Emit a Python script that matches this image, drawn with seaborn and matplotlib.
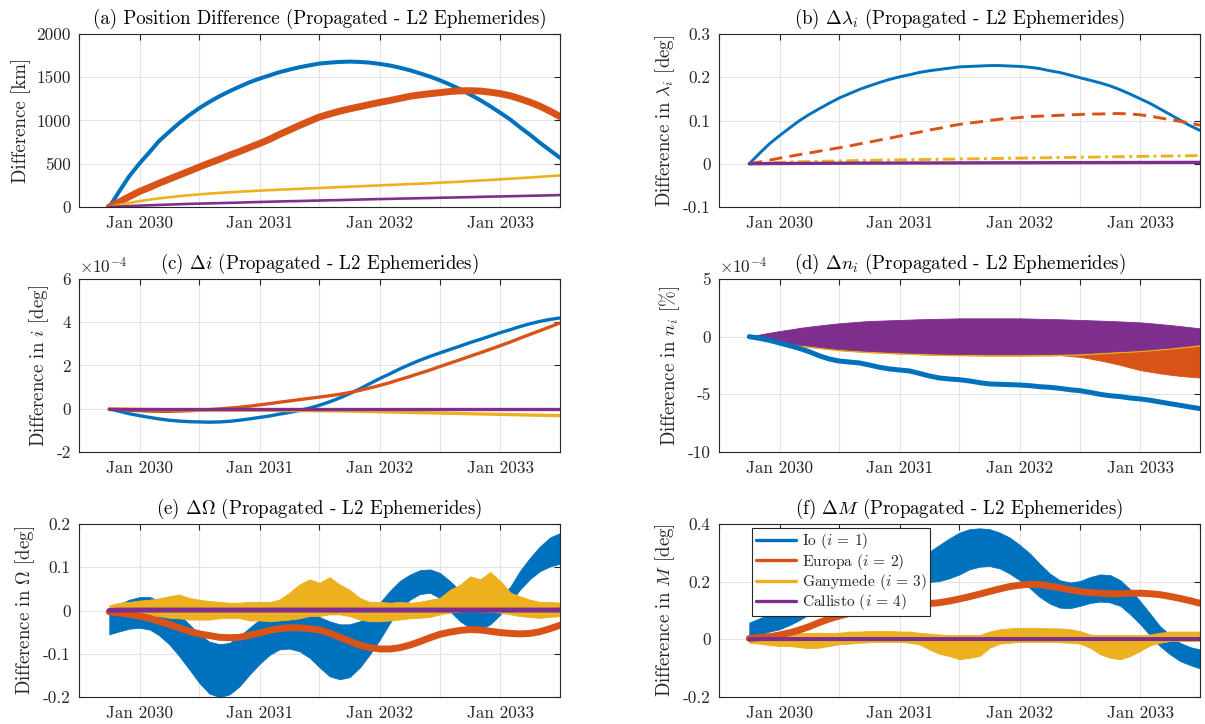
import numpy as np
import pandas as pd
import matplotlib
matplotlib.use("Agg")
import matplotlib.pyplot as plt
import seaborn as sns
from matplotlib.lines import Line2D

# ---------------- data ----------------
dates = pd.date_range("2029-10-01", "2033-07-01", freq="MS")  # monthly samples

moons = [r"Io ($i\,=\,1$)", r"Europa ($i\,=\,2$)", r"Ganymede ($i\,=\,3$)", r"Callisto ($i\,=\,4$)"]
colors = ["#0072BD", "#D95319", "#EDB120", "#7E2F8E"]

tick_dates = ["2029-07-01", "2030-01-01", "2030-07-01", "2031-01-01", "2031-07-01",
              "2032-01-01", "2032-07-01", "2033-01-01", "2033-07-01"]
tick_labels = ["", "Jan 2030", "", "Jan 2031", "", "Jan 2032", "", "Jan 2033", ""]

# (a) position difference [km]
a_io = [0, 185, 358, 504, 638, 762, 869, 969, 1062, 1142, 1215, 1281, 1338, 1392, 1442, 1485,
        1523, 1558, 1588, 1615, 1638, 1658, 1669, 1677, 1681, 1677, 1669, 1654, 1635, 1611, 1581,
        1546, 1508, 1465, 1415, 1361, 1300, 1235, 1165, 1088, 1008, 923, 835, 742, 654, 569]
a_eur = [0, 60, 120, 180, 228, 275, 322, 368, 415, 462, 508, 552, 598, 642, 688, 735, 785, 838,
         890, 942, 992, 1040, 1075, 1108, 1135, 1160, 1185, 1210, 1232, 1255, 1280, 1296, 1310,
         1322, 1335, 1343, 1345, 1340, 1328, 1310, 1285, 1252, 1212, 1165, 1108, 1045]
a_gan = [0, 25, 48, 68, 85, 100, 113, 125, 136, 146, 155, 163, 170, 177, 183, 189, 195, 200, 205,
         210, 215, 220, 225, 230, 235, 240, 245, 250, 255, 260, 265, 270, 275, 281, 287, 293, 300,
         306, 313, 320, 327, 334, 341, 349, 357, 365]
a_cal = [0, 6, 11, 16, 20, 24, 28, 32, 36, 39, 42, 45, 48, 51, 55, 58, 61, 64, 67, 69, 72, 75, 78,
         80, 83, 86, 89, 92, 94, 97, 99, 102, 104, 107, 109, 112, 114, 117, 120, 122, 125, 127,
         130, 132, 135, 138]

# (b) mean longitude difference [deg]
b_io = [0.000, 0.024, 0.046, 0.065, 0.083, 0.099, 0.114, 0.127, 0.140, 0.152, 0.162, 0.172, 0.180,
        0.188, 0.195, 0.201, 0.206, 0.211, 0.215, 0.218, 0.221, 0.224, 0.225, 0.226, 0.227, 0.227,
        0.226, 0.225, 0.223, 0.220, 0.215, 0.211, 0.205, 0.199, 0.193, 0.187, 0.180, 0.171, 0.161,
        0.150, 0.139, 0.127, 0.114, 0.101, 0.088, 0.077]
b_eur = [0.000, 0.004, 0.008, 0.013, 0.017, 0.021, 0.025, 0.029, 0.033, 0.037, 0.041, 0.046,
         0.050, 0.055, 0.059, 0.064, 0.069, 0.073, 0.078, 0.082, 0.087, 0.091, 0.094, 0.097, 0.100,
         0.103, 0.105, 0.107, 0.109, 0.110, 0.111, 0.112, 0.113, 0.114, 0.115, 0.115, 0.116, 0.116,
         0.115, 0.113, 0.110, 0.106, 0.102, 0.098, 0.094, 0.089]
b_gan = [0.000, 0.001, 0.002, 0.003, 0.004, 0.0045, 0.005, 0.0055, 0.006, 0.0065, 0.007, 0.0075,
         0.008, 0.0083, 0.0086, 0.009, 0.0093, 0.0096, 0.010, 0.0103, 0.0106, 0.011, 0.0113,
         0.0116, 0.012, 0.0123, 0.0126, 0.013, 0.0133, 0.0136, 0.014, 0.0143, 0.0146, 0.015,
         0.0153, 0.0156, 0.016, 0.0163, 0.0166, 0.017, 0.0173, 0.0176, 0.018, 0.0183, 0.0186, 0.019]
b_cal = [0.000, 0.0002, 0.0004, 0.0006, 0.0007, 0.0008, 0.0009, 0.0010, 0.0011, 0.0012, 0.0013,
         0.0014, 0.0015, 0.0015, 0.0016, 0.0017, 0.0017, 0.0018, 0.0018, 0.0019, 0.0019, 0.0020,
         0.0020, 0.0021, 0.0021, 0.0022, 0.0022, 0.0023, 0.0023, 0.0024, 0.0024, 0.0025, 0.0025,
         0.0026, 0.0026, 0.0027, 0.0027, 0.0028, 0.0028, 0.0029, 0.0029, 0.0030, 0.0030, 0.0031,
         0.0031, 0.0032]

# (c) inclination difference [1e-4 deg]
c_io = [0.00, -0.12, -0.23, -0.32, -0.40, -0.47, -0.53, -0.57, -0.60, -0.61, -0.62, -0.61, -0.58,
        -0.53, -0.47, -0.40, -0.33, -0.25, -0.17, -0.08, 0.03, 0.16, 0.32, 0.50, 0.70, 0.92, 1.16,
        1.40, 1.62, 1.84, 2.05, 2.24, 2.42, 2.58, 2.74, 2.90, 3.06, 3.21, 3.36, 3.52, 3.66, 3.80,
        3.93, 4.04, 4.13, 4.20]
c_eur = [0.00, -0.04, -0.07, -0.09, -0.11, -0.12, -0.12, -0.11, -0.09, -0.07, -0.04, -0.01, 0.03,
         0.07, 0.12, 0.18, 0.24, 0.30, 0.36, 0.42, 0.48, 0.54, 0.60, 0.67, 0.75, 0.85, 0.96, 1.08,
         1.21, 1.35, 1.49, 1.64, 1.79, 1.95, 2.11, 2.27, 2.43, 2.59, 2.75, 2.92, 3.09, 3.26, 3.44,
         3.61, 3.79, 3.97]
c_gan = [0.00, -0.01, -0.02, -0.03, -0.035, -0.04, -0.045, -0.05, -0.055, -0.06, -0.062, -0.065,
         -0.068, -0.07, -0.072, -0.075, -0.078, -0.08, -0.083, -0.086, -0.09, -0.094, -0.098, -0.10,
         -0.11, -0.12, -0.13, -0.14, -0.15, -0.16, -0.17, -0.18, -0.19, -0.20, -0.21, -0.22, -0.23,
         -0.24, -0.25, -0.26, -0.27, -0.28, -0.29, -0.30, -0.31, -0.32]
c_cal = [0.00, 0.00, 0.00, 0.00, 0.00, 0.00, 0.00, 0.00, 0.00, 0.00, 0.00, 0.00, 0.00, 0.00, 0.00,
         0.00, 0.00, 0.00, 0.00, 0.00, 0.00, 0.00, 0.00, 0.00, 0.00, 0.00, 0.00, 0.00, 0.00, 0.00,
         0.00, 0.00, 0.00, 0.00, 0.00, 0.00, 0.00, 0.00, 0.00, 0.00, 0.00, 0.00, 0.00, 0.00, 0.00,
         0.00]

# (d) mean motion difference [1e-4 %], envelopes of the oscillating bands
d_io = [0.00, -0.14, -0.32, -0.55, -0.78, -1.01, -1.30, -1.65, -1.94, -2.11, -2.20, -2.28, -2.46,
        -2.66, -2.80, -2.89, -2.98, -3.18, -3.41, -3.58, -3.67, -3.73, -3.84, -3.99, -4.10, -4.13,
        -4.16, -4.19, -4.25, -4.34, -4.39, -4.48, -4.60, -4.68, -4.83, -5.00, -5.12, -5.20, -5.32,
        -5.40, -5.52, -5.66, -5.81, -5.95, -6.10, -6.24]
d_eur_hi = [0.05, 0.10, 0.20, 0.30, 0.40, 0.48, 0.56, 0.63, 0.70, 0.76, 0.81, 0.86, 0.90, 0.93,
            0.96, 0.98, 1.00, 1.02, 1.04, 1.05, 1.06, 1.07, 1.07, 1.07, 1.07, 1.07, 1.06, 1.05,
            1.04, 1.02, 1.00, 0.95, 0.85, 0.75, 0.65, 0.55, 0.45, 0.35, 0.25, 0.15, 0.05, -0.05,
            -0.15, -0.25, -0.35, -0.45]
d_eur_lo = [-0.03, -0.22, -0.40, -0.55, -0.68, -0.78, -0.88, -0.98, -1.08, -1.17, -1.23, -1.29,
            -1.34, -1.38, -1.42, -1.46, -1.49, -1.52, -1.55, -1.57, -1.59, -1.60, -1.61, -1.62,
            -1.63, -1.63, -1.63, -1.63, -1.62, -1.62, -1.63, -1.60, -1.68, -1.75, -1.90, -2.07,
            -2.25, -2.45, -2.68, -2.90, -3.05, -3.18, -3.30, -3.40, -3.48, -3.55]
d_gan_hi = [0.10, 0.15, 0.28, 0.40, 0.50, 0.60, 0.70, 0.78, 0.86, 0.93, 0.98, 1.03, 1.08, 1.10,
            1.12, 1.14, 1.16, 1.18, 1.20, 1.22, 1.23, 1.24, 1.24, 1.24, 1.24, 1.24, 1.24, 1.24,
            1.23, 1.22, 1.20, 1.18, 1.16, 1.14, 1.12, 1.10, 1.08, 1.05, 1.02, 0.98, 0.93, 0.87,
            0.81, 0.74, 0.66, 0.58]
d_gan_lo = [-0.05, -0.25, -0.42, -0.58, -0.70, -0.80, -0.90, -1.00, -1.10, -1.19, -1.25, -1.31,
            -1.36, -1.40, -1.44, -1.48, -1.51, -1.54, -1.57, -1.59, -1.61, -1.62, -1.63, -1.64,
            -1.65, -1.65, -1.65, -1.65, -1.64, -1.63, -1.62, -1.60, -1.58, -1.56, -1.51, -1.46,
            -1.41, -1.36, -1.31, -1.26, -1.19, -1.12, -1.05, -0.96, -0.87, -0.78]
d_cal_hi = [0.00, 0.18, 0.34, 0.49, 0.62, 0.75, 0.87, 0.97, 1.07, 1.16, 1.23, 1.30, 1.36, 1.39,
            1.42, 1.45, 1.48, 1.51, 1.53, 1.55, 1.57, 1.59, 1.59, 1.59, 1.59, 1.59, 1.59, 1.59,
            1.57, 1.55, 1.53, 1.51, 1.48, 1.45, 1.42, 1.39, 1.36, 1.32, 1.28, 1.24, 1.17, 1.09,
            1.01, 0.92, 0.82, 0.72]
d_cal_lo = [0.00, -0.17, -0.33, -0.49, -0.59, -0.69, -0.78, -0.88, -0.98, -1.07, -1.13, -1.19,
            -1.24, -1.28, -1.32, -1.36, -1.39, -1.42, -1.45, -1.47, -1.49, -1.50, -1.51, -1.52,
            -1.53, -1.53, -1.53, -1.53, -1.52, -1.51, -1.50, -1.48, -1.47, -1.45, -1.40, -1.35,
            -1.30, -1.25, -1.21, -1.16, -1.09, -1.02, -0.95, -0.85, -0.76, -0.66]

# (e) RAAN difference [deg]
e_io_hi = [0.002, 0.015, 0.025, 0.031, 0.031, 0.023, 0.010, -0.009, -0.032, -0.055, -0.072,
           -0.078, -0.075, -0.059, -0.040, -0.021, -0.009, -0.003, -0.002, -0.003, -0.008, -0.015,
           -0.025, -0.032, -0.032, -0.025, -0.009, 0.018, 0.046, 0.068, 0.083, 0.093, 0.095,
           0.087, 0.068, 0.045, 0.025, 0.015, 0.015, 0.029, 0.056, 0.091, 0.122, 0.148, 0.169,
           0.179]
e_io_lo = [-0.055, -0.048, -0.042, -0.040, -0.044, -0.057, -0.078, -0.105, -0.136, -0.167, -0.192,
           -0.200, -0.194, -0.175, -0.148, -0.123, -0.102, -0.090, -0.088, -0.094, -0.109, -0.131,
           -0.152, -0.159, -0.154, -0.132, -0.102, -0.067, -0.028, 0.002, 0.025, 0.038, 0.041,
           0.029, -0.002, -0.025, -0.040, -0.044, -0.032, -0.009, 0.020, 0.048, 0.073, 0.091,
           0.102, 0.108]
e_eur = [-0.003, -0.006, -0.009, -0.013, -0.018, -0.025, -0.032, -0.040, -0.048, -0.054, -0.058,
         -0.062, -0.063, -0.062, -0.057, -0.052, -0.046, -0.042, -0.040, -0.040, -0.042, -0.045,
         -0.052, -0.062, -0.071, -0.080, -0.086, -0.089, -0.089, -0.086, -0.080, -0.072, -0.063,
         -0.055, -0.050, -0.046, -0.044, -0.045, -0.048, -0.051, -0.053, -0.054, -0.053, -0.049,
         -0.042, -0.034]
e_gan_hi = [0.012, 0.018, 0.020, 0.023, 0.025, 0.028, 0.033, 0.037, 0.029, 0.025, 0.022, 0.020,
            0.018, 0.018, 0.020, 0.020, 0.020, 0.025, 0.041, 0.060, 0.072, 0.064, 0.077, 0.060,
            0.048, 0.029, 0.020, 0.020, 0.018, 0.020, 0.018, 0.020, 0.025, 0.029, 0.048, 0.060,
            0.079, 0.072, 0.089, 0.068, 0.041, 0.033, 0.025, 0.020, 0.020, 0.018]
e_gan_lo = [-0.005, -0.008, -0.009, -0.012, -0.013, -0.013, -0.017, -0.018, -0.021, -0.021,
            -0.021, -0.018, -0.017, -0.018, -0.023, -0.023, -0.025, -0.023, -0.021, -0.018,
            -0.013, -0.013, -0.009, -0.009, -0.013, -0.021, -0.025, -0.025, -0.023, -0.021,
            -0.018, -0.017, -0.015, -0.009, -0.005, -0.002, -0.002, -0.002, -0.003, -0.005,
            -0.009, -0.013, -0.015, -0.017, -0.015, -0.013]
e_cal = [0.000, 0.001, 0.001, 0.001, 0.001, 0.001, 0.001, 0.001, 0.001, 0.001, 0.001, 0.001,
         0.001, 0.001, 0.001, 0.001, 0.001, 0.001, 0.001, 0.001, 0.001, 0.001, 0.001, 0.001,
         0.001, 0.001, 0.001, 0.001, 0.001, 0.001, 0.001, 0.001, 0.001, 0.001, 0.001, 0.001,
         0.001, 0.001, 0.001, 0.001, 0.001, 0.001, 0.001, 0.001, 0.001, 0.001]

# (f) mean anomaly difference [deg]
f_io_hi = [0.058, 0.073, 0.087, 0.098, 0.110, 0.124, 0.139, 0.154, 0.170, 0.185, 0.200, 0.214,
           0.228, 0.239, 0.251, 0.262, 0.276, 0.290, 0.304, 0.327, 0.350, 0.370, 0.382, 0.385,
           0.382, 0.370, 0.353, 0.327, 0.297, 0.262, 0.228, 0.205, 0.197, 0.202, 0.216, 0.225,
           0.223, 0.205, 0.173, 0.131, 0.087, 0.046, 0.015, -0.012, -0.027, -0.035]
f_io_lo = [0.006, 0.015, 0.027, 0.035, 0.050, 0.066, 0.087, 0.104, 0.119, 0.131, 0.139, 0.147,
           0.154, 0.161, 0.170, 0.179, 0.188, 0.195, 0.199, 0.202, 0.212, 0.225, 0.243, 0.252,
           0.254, 0.246, 0.228, 0.205, 0.177, 0.147, 0.124, 0.110, 0.108, 0.116, 0.126, 0.131,
           0.128, 0.116, 0.087, 0.052, 0.012, -0.023, -0.052, -0.075, -0.089, -0.101]
f_eur = [0.003, 0.006, 0.009, 0.015, 0.023, 0.032, 0.044, 0.058, 0.071, 0.081, 0.090, 0.097,
         0.103, 0.108, 0.112, 0.116, 0.119, 0.121, 0.124, 0.127, 0.133, 0.140, 0.148, 0.157,
         0.166, 0.175, 0.183, 0.188, 0.191, 0.190, 0.185, 0.179, 0.172, 0.166, 0.162, 0.160,
         0.158, 0.158, 0.160, 0.160, 0.158, 0.155, 0.149, 0.142, 0.134, 0.125]
f_gan_hi = [0.012, 0.015, 0.017, 0.020, 0.020, 0.022, 0.022, 0.023, 0.022, 0.023, 0.027, 0.027,
            0.029, 0.029, 0.029, 0.027, 0.027, 0.023, 0.020, 0.017, 0.015, 0.015, 0.015, 0.015,
            0.027, 0.035, 0.038, 0.040, 0.040, 0.040, 0.038, 0.038, 0.035, 0.029, 0.017, 0.015,
            0.015, 0.015, 0.015, 0.015, 0.017, 0.023, 0.027, 0.027, 0.027, 0.027]
f_gan_lo = [-0.012, -0.015, -0.020, -0.023, -0.023, -0.027, -0.031, -0.029, -0.023, -0.017,
            -0.015, -0.012, -0.010, -0.009, -0.009, -0.009, -0.012, -0.017, -0.035, -0.050,
            -0.058, -0.069, -0.064, -0.058, -0.029, -0.015, -0.012, -0.009, -0.009, -0.009,
            -0.009, -0.010, -0.012, -0.015, -0.029, -0.052, -0.064, -0.069, -0.058, -0.040,
            -0.020, -0.012, -0.006, -0.006, -0.006, -0.006]
f_cal = [0.000, 0.001, 0.001, 0.001, 0.001, 0.001, 0.001, 0.001, 0.001, 0.001, 0.001, 0.001,
         0.001, 0.001, 0.001, 0.001, 0.001, 0.001, 0.001, 0.001, 0.001, 0.001, 0.001, 0.001,
         0.001, 0.001, 0.001, 0.001, 0.001, 0.001, 0.001, 0.001, 0.001, 0.001, 0.001, 0.001,
         0.001, 0.001, 0.001, 0.001, 0.001, 0.001, 0.001, 0.001, 0.001, 0.001]

# ---------------- style ----------------
sns.set_theme(style="white")
plt.rcParams.update({
    "font.family": "serif",
    "font.serif": ["cmr10"],
    "mathtext.fontset": "cm",
    "axes.unicode_minus": False,
    "axes.formatter.use_mathtext": True,
    "axes.edgecolor": "#262626",
    "axes.linewidth": 0.8,
})
TICK_FS = 12.4
LABEL_FS = 13.6
DARK = "#262626"

fig = plt.figure(figsize=(12.05, 7.24), dpi=100)
W, H = 1205, 724
def rect(l, t, r, b):
    return [l / W, 1 - b / H, (r - l) / W, (b - t) / H]

axes = {
    "a": fig.add_axes(rect(79, 34, 560, 207)),
    "b": fig.add_axes(rect(719, 34, 1200, 207)),
    "c": fig.add_axes(rect(79, 279, 560, 452)),
    "d": fig.add_axes(rect(719, 279, 1200, 452)),
    "e": fig.add_axes(rect(79, 524, 560, 697)),
    "f": fig.add_axes(rect(719, 524, 1200, 697)),
}

def line(ax, y, c, lw, **kw):
    sns.lineplot(x=dates, y=y, ax=ax, color=c, linewidth=lw, legend=False, **kw)
    return ax.lines[-1]

def band(ax, lo, hi, c):
    ax.fill_between(dates, lo, hi, color=c, linewidth=0.6, edgecolor=c)

def style(ax, title, ylabel, ylim, yticks, ylabels):
    ax.set_xlim(pd.Timestamp("2029-07-01"), pd.Timestamp("2033-07-01"))
    ax.set_xticks(pd.to_datetime(tick_dates))
    ax.set_xticklabels(tick_labels)
    ax.set_ylim(*ylim)
    ax.set_yticks(yticks)
    ax.set_yticklabels(ylabels)
    ax.tick_params(which="both", direction="in", top=True, right=True, length=4,
                   width=0.8, colors=DARK, labelsize=TICK_FS, pad=6)
    ax.grid(True, color="#e4e4e4", linewidth=0.8)
    ax.set_axisbelow(True)
    ax.set_xlabel("")
    ax.set_ylabel(ylabel, fontsize=LABEL_FS, color=DARK, labelpad=4)
    ax.set_title(title, fontsize=LABEL_FS, color="black", pad=7)
    for s in ax.spines.values():
        s.set_color(DARK)
        s.set_linewidth(0.8)

# (a)
ax = axes["a"]
line(ax, a_io, colors[0], 2.9)
line(ax, a_eur, colors[1], 5.0)
line(ax, a_gan, colors[2], 1.9)
line(ax, a_cal, colors[3], 1.9)
style(ax, "(a) Position Difference (Propagated - L2 Ephemerides)", "Difference [km]",
      (0, 2000), [0, 500, 1000, 1500, 2000], ["0", "500", "1000", "1500", "2000"])

# (b)
ax = axes["b"]
line(ax, b_io, colors[0], 2.1)
l = line(ax, b_eur, colors[1], 2.1); l.set_dashes([4.5, 2.5])
l = line(ax, b_gan, colors[2], 2.1); l.set_dashes([4.3, 1.5, 1.0, 1.5])
line(ax, b_cal, colors[3], 2.4)
style(ax, r"(b) $\Delta\lambda_i$ (Propagated - L2 Ephemerides)",
      r"Difference in $\lambda_i$ [deg]", (-0.1, 0.3), [-0.1, 0, 0.1, 0.2, 0.3],
      ["-0.1", "0", "0.1", "0.2", "0.3"])

# (c)
ax = axes["c"]
line(ax, c_io, colors[0], 2.4)
line(ax, c_eur, colors[1], 2.4)
line(ax, c_gan, colors[2], 2.4)
line(ax, c_cal, colors[3], 2.4)
style(ax, r"(c) $\Delta i$ (Propagated - L2 Ephemerides)", r"Difference in $i$ [deg]",
      (-2, 6), [-2, 0, 2, 4, 6], ["-2", "0", "2", "4", "6"])
ax.text(0.0, 1.015, r"$\times10^{-4}$", transform=ax.transAxes, ha="left", va="bottom",
        fontsize=TICK_FS, color=DARK)

# (d)
ax = axes["d"]
line(ax, d_io, colors[0], 3.6)
band(ax, d_eur_lo, d_eur_hi, colors[1])
band(ax, d_gan_lo, d_gan_hi, colors[2])
band(ax, d_cal_lo, d_cal_hi, colors[3])
style(ax, r"(d) $\Delta n_i$ (Propagated - L2 Ephemerides)", r"Difference in $n_i$ [%]",
      (-10, 5), [-10, -5, 0, 5], ["-10", "-5", "0", "5"])
ax.text(0.0, 1.015, r"$\times10^{-4}$", transform=ax.transAxes, ha="left", va="bottom",
        fontsize=TICK_FS, color=DARK)

# (e)
ax = axes["e"]
band(ax, e_io_lo, e_io_hi, colors[0])
line(ax, e_eur, colors[1], 5.0)
band(ax, e_gan_lo, e_gan_hi, colors[2])
line(ax, e_cal, colors[3], 3.6)
style(ax, r"(e) $\Delta\Omega$ (Propagated - L2 Ephemerides)", r"Difference in $\Omega$ [deg]",
      (-0.2, 0.2), [-0.2, -0.1, 0, 0.1, 0.2], ["-0.2", "-0.1", "0", "0.1", "0.2"])

# (f)
ax = axes["f"]
band(ax, f_io_lo, f_io_hi, colors[0])
line(ax, f_eur, colors[1], 5.0)
band(ax, f_gan_lo, f_gan_hi, colors[2])
line(ax, f_cal, colors[3], 2.9)
style(ax, r"(f) $\Delta M$ (Propagated - L2 Ephemerides)", r"Difference in $M$ [deg]",
      (-0.2, 0.4), [-0.2, 0, 0.2, 0.4], ["-0.2", "0", "0.2", "0.4"])
handles = [Line2D([], [], color=c, lw=2.4) for c in colors]
leg = ax.legend(handles, moons, loc="upper left", bbox_to_anchor=(0.069, 0.977),
                borderaxespad=0, fontsize=11.2, handlelength=2.6, handletextpad=0.35,
                labelspacing=0.02, borderpad=0.22, fancybox=False, framealpha=1)
leg.get_frame().set_edgecolor(DARK)
leg.get_frame().set_linewidth(0.8)

fig.savefig("out.png", dpi=100)
